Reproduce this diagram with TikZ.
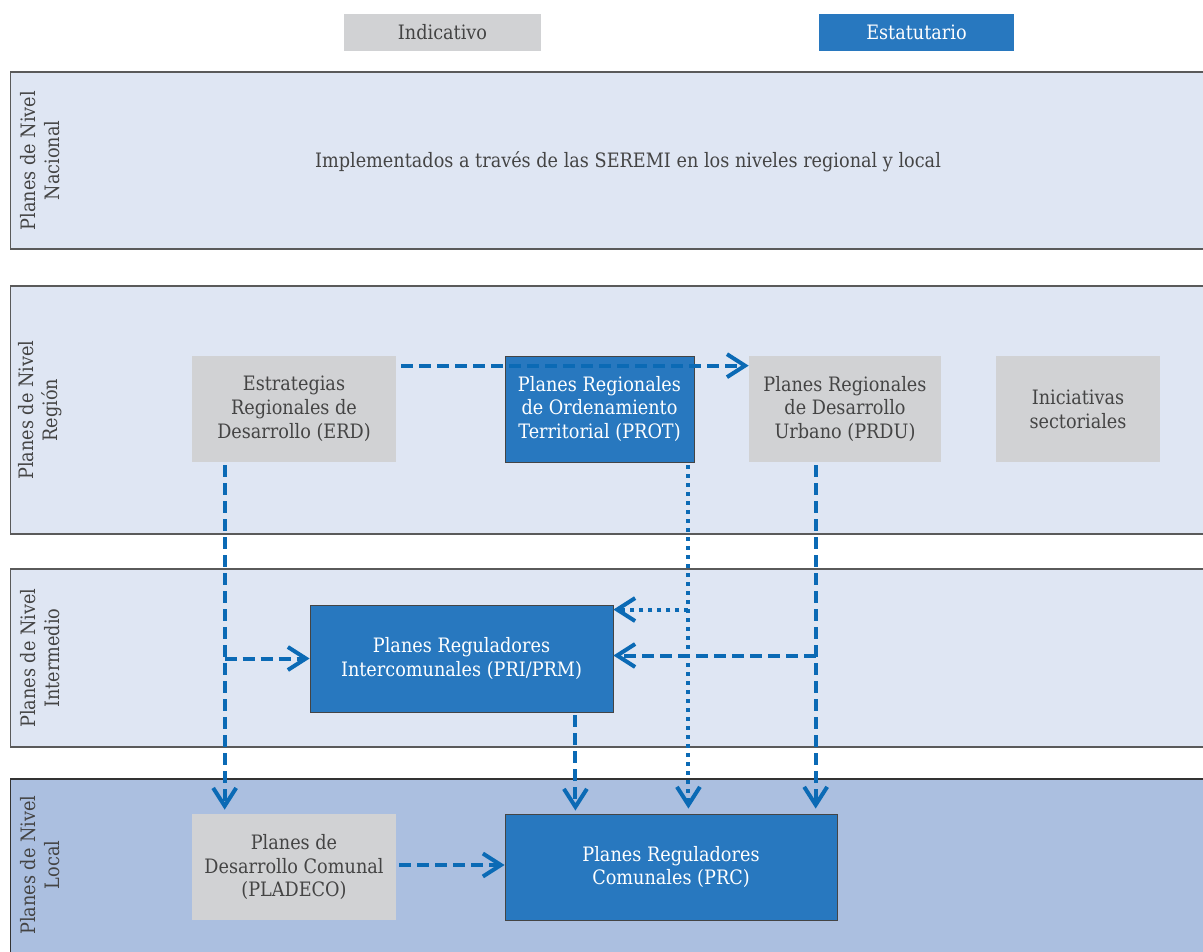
\documentclass[tikz,border=0pt]{standalone}
\usepackage{fontspec}
\setmainfont{DejaVu Serif}[FakeStretch=0.89]
\usetikzlibrary{arrows.meta,positioning,calc}

\definecolor{bandfill}{HTML}{DFE6F3}
\definecolor{localfill}{HTML}{ABBFE0}
\definecolor{greybox}{HTML}{D1D2D4}
\definecolor{bluebox}{HTML}{2878BF}
\definecolor{flow}{HTML}{0B6AB5}
\definecolor{txt}{HTML}{444444}
\definecolor{rule}{HTML}{5A5A5A}

\begin{document}
\begin{tikzpicture}[x=0.02cm,y=-0.02cm,font=\fontsize{11.3}{13.6}\selectfont,
    band/.style={fill=bandfill, draw=rule, line width=0.7pt, minimum width=24cm, inner sep=0},
    level/.style={rotate=90, align=center, text=txt},
    indic/.style={fill=greybox, text=txt, align=center, inner sep=0, minimum height=2.12cm},
    statut/.style={fill=bluebox, draw=txt, line width=0.5pt, text=white, align=center, inner sep=0, minimum height=2.12cm},
    line/.style={draw=flow, line width=0.08cm, -{Straight Barb[length=0.36cm,width=0.46cm]}, dash pattern=on 0.24cm off 0.12cm},
    dotline/.style={line, dash pattern=on 0.08cm off 0.1cm},
    ]
    \useasboundingbox (0,0) rectangle (1203,952);

    % Legend
    \node [fill=greybox, text=txt, minimum width=3.94cm, minimum height=0.74cm] (ind) at (442.5,32.5) {Indicativo};
    \node [fill=bluebox, text=white, minimum width=3.9cm, minimum height=0.74cm] (est) at (916.5,32.5) {Estatutario};

    % Bands
    \node [band, minimum height=3.54cm] (nac) at (610,160.5) {};
    \node [band, minimum height=4.96cm] (reg) at (610,410) {};
    \node [band, minimum height=3.56cm] (inter) at (610,658) {};
    \node [band, fill=localfill, draw=black!80, minimum height=3.62cm] (loc) at (610,869.5) {};

    \node [level] (nacl) at (40,160.5) {Planes de Nivel\\Nacional};
    \node [level] (regl) at (40,410) {Planes de Nivel\\Región};
    \node [level] (interl) at (40,658) {Planes de Nivel\\Intermedio};
    \node [level] (locl) at (40,865) {Planes de Nivel\\Local};

    \node [text=txt] (seremi) at (628,162) {Implementados a través de las SEREMI en los niveles regional y local};

    % Place nodes
    \node [indic, minimum width=4.08cm] (erd) at (294,409) {Estrategias\\Regionales de\\Desarrollo (ERD)};
    \node [statut, minimum width=3.78cm] (prot) at (599.5,409) {Planes Regionales\\de Ordenamiento\\Territorial (PROT)};
    \node [indic, minimum width=3.84cm] (prdu) at (845,409) {Planes Regionales\\de Desarrollo\\Urbano (PRDU)};
    \node [indic, minimum width=3.28cm] (inic) at (1078,409) {Iniciativas\\sectoriales};
    \node [statut, minimum width=6.06cm, minimum height=2.14cm] (pri) at (461.5,658.5) {Planes Reguladores\\Intercomunales (PRI/PRM)};
    \node [indic, minimum width=4.08cm] (pladeco) at (294,867) {Planes de\\Desarrollo Comunal\\(PLADECO)};
    \node [statut, minimum width=6.64cm] (prc) at (671,867) {Planes Reguladores\\Comunales (PRC)};

    % Draw edges
    \path [line] ($(erd.north east)+(5,10)$) -- ($(prdu.north west)+(0,10)$);

    \coordinate (erdx) at ($(erd.south west)+(33,3)$);
    \path [line] (erdx) -- ($(erdx |- pladeco.north)+(0,-4)$);
    \path [line] (pri.west -| erdx) -- (pri.west);

    \coordinate (protx) at ($(prot.south east)+(-6,3)$);
    \path [dotline] (protx) -- ($(protx |- prc.north)+(0,-5)$);
    \path [dotline] ($(protx |- pri.north east)+(0,5)$) -- ($(pri.north east)+(0,5)$);

    \coordinate (prdux) at ($(prdu.south west)+(67,3)$);
    \path [line] (prdux) -- ($(prdux |- prc.north)+(0,-5)$);
    \path [line] ($(prdux |- pri.east)+(0,-3)$) -- ($(pri.east)+(0,-3)$);

    \path [line] ($(pri.south east)+(-38,3)$) -- ($(pri.south east |- prc.north)+(-38,-3)$);
    \path [line] ($(pladeco.east)+(3,-2)$) -- ($(prc.west)+(0,-2)$);
\end{tikzpicture}
\end{document}
